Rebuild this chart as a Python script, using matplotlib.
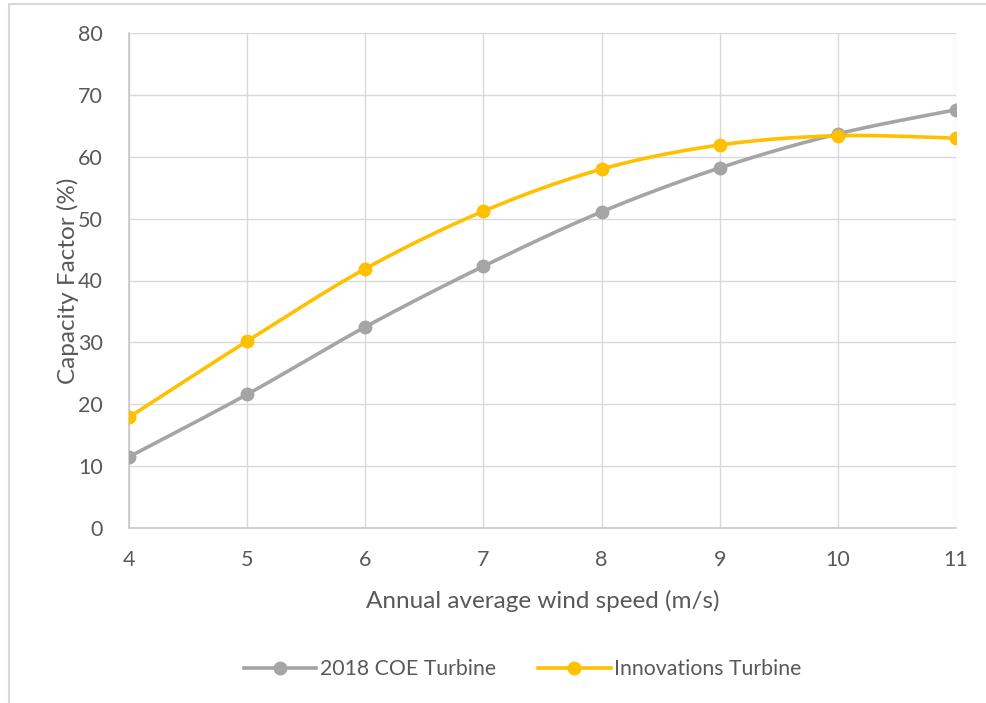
import numpy as np
import matplotlib.pyplot as plt
from matplotlib.patches import Rectangle

plt.rcParams['font.family'] = ['Lato', 'DejaVu Sans']

wind_speed = [4, 5, 6, 7, 8, 9, 10, 11]
coe_2018 = [11.5, 21.6, 32.5, 42.3, 51.1, 58.2, 63.7, 67.6]
innovations = [17.9, 30.2, 41.9, 51.2, 58.0, 61.9, 63.4, 63.0]

GRAY = '#A5A5A5'
GOLD = '#FFC000'
TEXT = '#595959'
GRID = '#D9D9D9'
AXIS = '#C4C4C4'


def smooth(xs, ys, n=30):
    # cubic bezier through the points, spreadsheet-style smoothing
    p = np.column_stack([xs, ys]).astype(float)
    p_ext = np.vstack([p[0], p, p[-1]])
    out = []
    t = np.linspace(0, 1, n)[:, None]
    for i in range(len(p) - 1):
        p0 = p_ext[i + 1]
        p3 = p_ext[i + 2]
        c1 = p0 + (p_ext[i + 2] - p_ext[i]) / 6
        c2 = p3 - (p_ext[i + 3] - p_ext[i + 1]) / 6
        seg = ((1 - t) ** 3) * p0 + 3 * ((1 - t) ** 2) * t * c1 + 3 * (1 - t) * t ** 2 * c2 + t ** 3 * p3
        out.append(seg if i == 0 else seg[1:])
    seg = np.vstack(out)
    return seg[:, 0], seg[:, 1]


fig = plt.figure(figsize=(9.87, 7.03), dpi=100)
fig.patches.append(Rectangle((9 / 987, -0.1), 1.2, 1.1 - 4 / 703, transform=fig.transFigure,
                             fill=False, edgecolor=GRID, linewidth=1.5))
ax = fig.add_axes([129 / 987, 1 - 528 / 703, (956 - 129) / 987, (528 - 33) / 703])

for ys, color, label in [(coe_2018, GRAY, '2018 COE Turbine'), (innovations, GOLD, 'Innovations Turbine')]:
    sx, sy = smooth(wind_speed, ys)
    ax.plot(sx, sy, color=color, linewidth=2.6, solid_capstyle='round', zorder=3)
    ax.plot(wind_speed, ys, linestyle='none', marker='o', markersize=9, color=color, zorder=4)
    ax.plot([], [], color=color, linewidth=2.6, marker='o', markersize=9, label=label)

ax.set_xlim(4, 11)
ax.set_ylim(0, 80)
ax.set_xticks(wind_speed)
ax.set_yticks(range(0, 81, 10))
ax.grid(True, color=GRID, linewidth=1)
ax.set_axisbelow(True)
for side in ['top', 'right']:
    ax.spines[side].set_visible(False)
for side in ['bottom', 'left']:
    ax.spines[side].set_color(AXIS)
    ax.spines[side].set_linewidth(1.1)
ax.tick_params(length=0, labelsize=15.5, colors=TEXT)
ax.tick_params(axis='x', pad=16)
ax.tick_params(axis='y', pad=19)

ax.set_xlabel('Annual average wind speed (m/s)', fontsize=17.5, color=TEXT, labelpad=14)
ax.set_ylabel('Capacity Factor (%)', fontsize=17.5, color=TEXT, labelpad=-1)

ax.legend(loc='center', bbox_to_anchor=(0.476, -0.285), ncol=2, frameon=False,
          fontsize=15.3, labelcolor=TEXT, handlelength=3.4, handletextpad=0.15, columnspacing=2.0)

fig.savefig('out.png', dpi=100)
